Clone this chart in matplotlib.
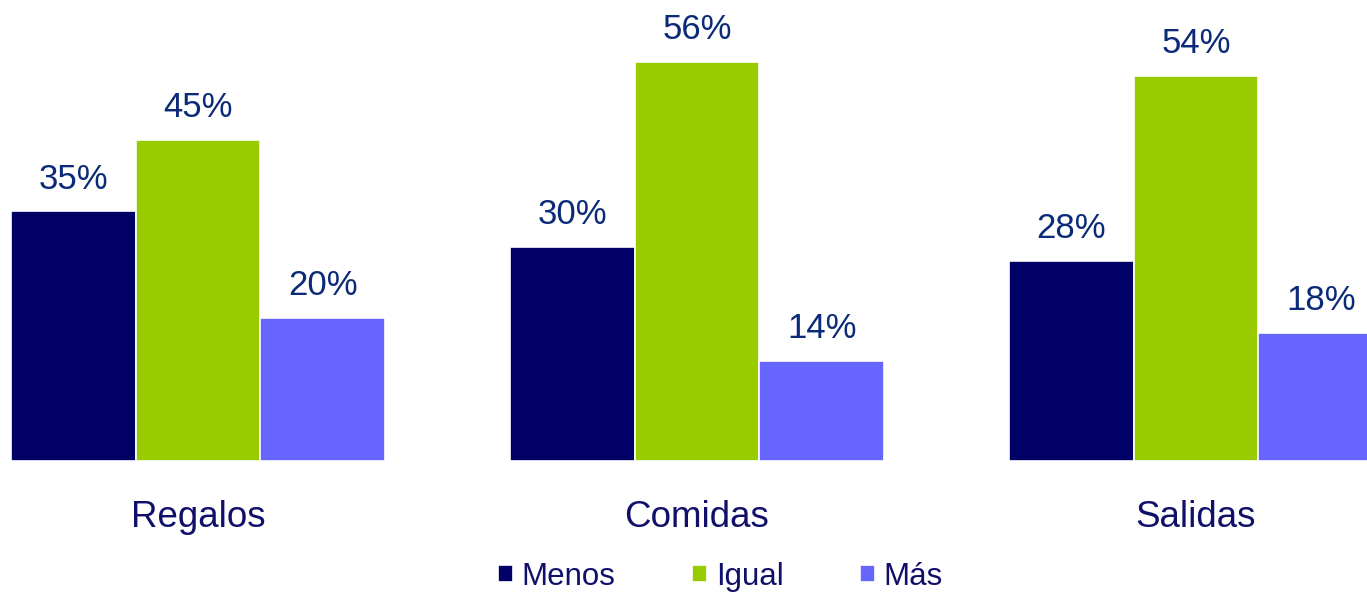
import matplotlib
matplotlib.use("Agg")
import matplotlib.pyplot as plt
import numpy as np

plt.rcParams['font.family'] = ['Liberation Sans', 'DejaVu Sans']

categories = ["Regalos", "Comidas", "Salidas"]
series_names = ["Menos", "Igual", "Más"]
menos = [35, 30, 28]
igual = [45, 56, 54]
mas = [20, 14, 18]
colors = ["#000066", "#99CC00", "#6666FF"]

values = [menos, igual, mas]

fig = plt.figure(figsize=(13.67, 5.93), dpi=100)
ax = fig.add_axes([0, (593 - 461) / 593, 1, 461 / 593])

x = np.arange(len(categories))
w = 0.25
handles = []
for k, (vals, name, col) in enumerate(zip(values, series_names, colors)):
    pos = x + (k - 1) * w
    b = ax.bar(pos, vals, width=w, color=col, edgecolor="white", linewidth=1.2, label=name)
    handles.append(b)
    for px, v in zip(pos, vals):
        ax.annotate(f"{v}%", (px, v), xytext=(0, 16.5), textcoords="offset points",
                    ha="center", va="baseline", fontsize=25, color="#0B2A78")

ax.set_xlim(-198 / 499, (1367 - 198) / 499)
ax.set_ylim(0, 461 / 7.13)
ax.axis("off")

for xi, c in zip(x, categories):
    ax.annotate(c, (xi, 0), xytext=(0, -47.5), textcoords="offset points",
                ha="center", va="baseline", fontsize=26.5, color="#10106A")

leg = fig.legend(handles=handles, labels=series_names, loc="lower center",
                 bbox_to_anchor=(0.527, 0.002), ncol=3, frameon=False, fontsize=22.5,
                 handlelength=0.48, handleheight=0.48, handletextpad=0.28,
                 columnspacing=2.45, borderpad=0.0, borderaxespad=0.0)
for t in leg.get_texts():
    t.set_color("#10106A")

fig.savefig("out.png", dpi=100)
